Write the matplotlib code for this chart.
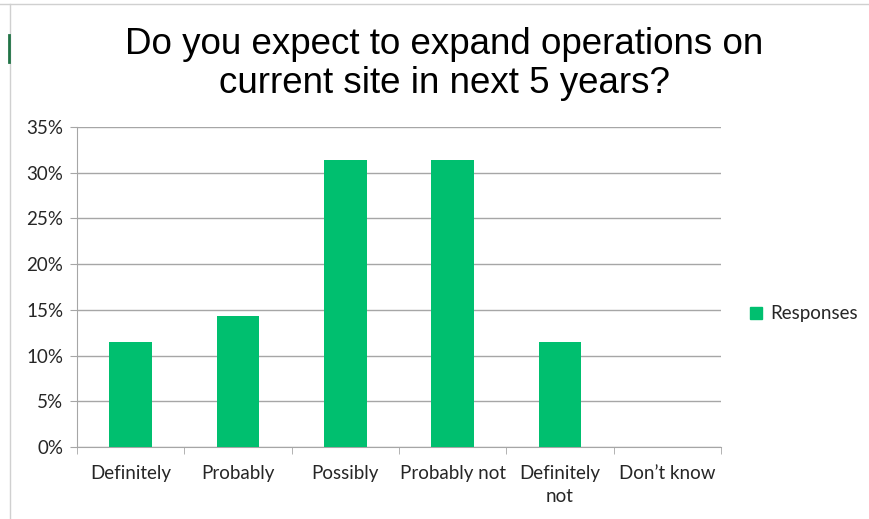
import matplotlib.pyplot as plt
import numpy as np
from matplotlib.lines import Line2D

categories = ["Definitely", "Probably", "Possibly", "Probably not", "Definitely\nnot", "Don\u2019t know"]
responses = [11.43, 14.29, 31.43, 31.43, 11.43, 0.0]
yticks = [0, 5, 10, 15, 20, 25, 30, 35]

green = "#00BF6F"
gridc = "#A6A6A6"
plt.rcParams['font.family'] = ['Lato', 'DejaVu Sans']

fig = plt.figure(figsize=(8.69, 5.19), dpi=100)
ax = fig.add_axes([77/869, 1-447/519, (721-77)/869, (447-127)/519])

x = np.arange(len(categories))
ax.bar(x, responses, width=0.4, color=green, label="Responses", zorder=3)

ax.set_xlim(-0.5, len(categories) - 0.5)
ax.set_ylim(0, 35)
ax.set_yticks(yticks)
ax.set_yticklabels([f"{v}%" for v in yticks], fontsize=13.5, color="#262626")
ax.yaxis.grid(True, color=gridc, linewidth=1, zorder=0)
ax.tick_params(axis='y', length=5, color=gridc, pad=5)

ax.set_xticks(x)
ax.set_xticklabels(categories, fontsize=13.5, color="#262626", linespacing=1.4)
ax.set_xticks(np.arange(-0.5, len(categories)), minor=True)
ax.tick_params(axis='x', which='major', length=0, pad=13)
ax.tick_params(axis='x', which='minor', length=5, color=gridc)

for s in ["top", "right"]:
    ax.spines[s].set_visible(False)
ax.spines["left"].set_color(gridc)
ax.spines["bottom"].set_color(gridc)

fig.text(0.511, 1-64/519, "Do you expect to expand operations on\ncurrent site in next 5 years?",
         ha='center', va='center', fontsize=26.5, family='Liberation Sans', linespacing=1.14)

fig.legend(handles=[Line2D([], [], marker='s', linestyle='', color=green, markersize=9)],
           labels=["Responses"], loc='center left', bbox_to_anchor=(748/869, 1-314/519),
           frameon=False, fontsize=13.5, handlelength=0.9, handletextpad=0.3,
           borderpad=0, borderaxespad=0, labelcolor="#262626")

# spreadsheet edge remnants
fig.add_artist(Line2D([0, 1], [1-4/519, 1-4/519], color="#D0D0D0", linewidth=1))
fig.add_artist(Line2D([10/869, 10/869], [0, 1-4/519], color="#D0D0D0", linewidth=1))
fig.add_artist(Line2D([9/869, 9/869], [1-62/519, 1-35/519], color="#217346", linewidth=2))

fig.savefig("out.png", dpi=100)
